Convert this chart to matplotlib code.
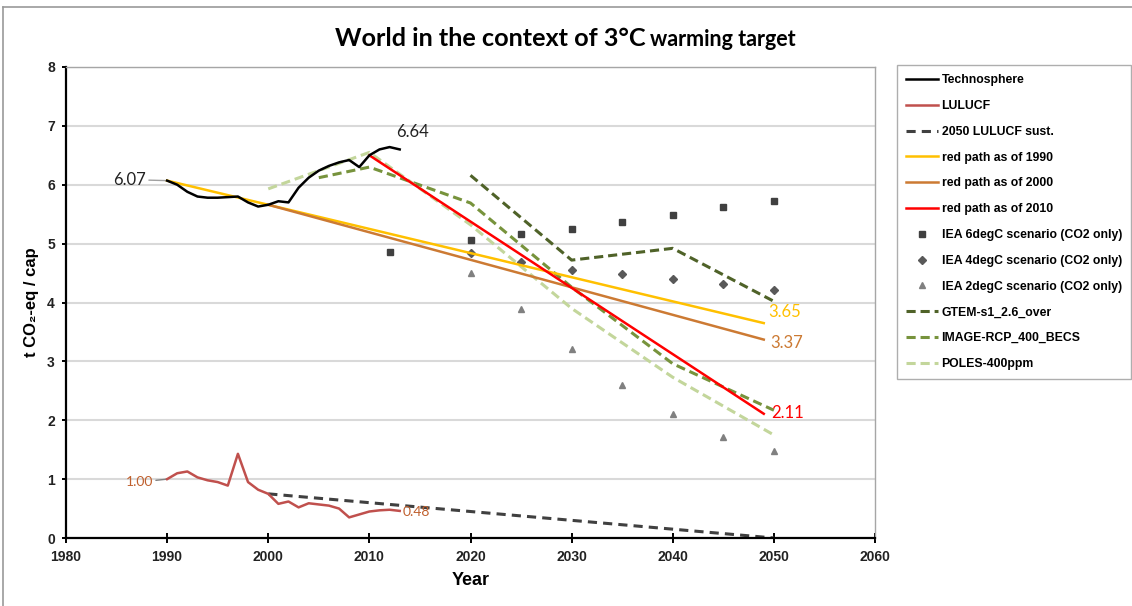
import numpy as np
import matplotlib.pyplot as plt
from matplotlib.lines import Line2D

# 历史排放（人均，t CO2-eq）
hist_years = [1990, 1991, 1992, 1993, 1994, 1995, 1996, 1997, 1998, 1999, 2000, 2001,
              2002, 2003, 2004, 2005, 2006, 2007, 2008, 2009, 2010, 2011, 2012, 2013]
techno = [6.07, 6.00, 5.88, 5.80, 5.78, 5.78, 5.79, 5.80, 5.70, 5.63, 5.66, 5.72,
          5.70, 5.95, 6.12, 6.24, 6.32, 6.38, 6.42, 6.30, 6.50, 6.60, 6.64, 6.60]
lulucf = [1.00, 1.10, 1.13, 1.03, 0.98, 0.95, 0.89, 1.43, 0.95, 0.82, 0.75, 0.58,
          0.62, 0.52, 0.59, 0.57, 0.55, 0.50, 0.35, 0.40, 0.45, 0.47, 0.48, 0.46]

# LULUCF 可持续路径
sust_years = [2000, 2050]
sust_vals = [0.75, 0.0]

# 减排路径
path1990_years = [1990, 2049]
path1990_vals = [6.07, 3.65]
path2000_years = [2000, 2049]
path2000_vals = [5.66, 3.37]
path2010_years = [2010, 2049]
path2010_vals = [6.50, 2.11]

# IEA 情景
iea_years = [2020, 2025, 2030, 2035, 2040, 2045, 2050]
iea6_years = [2012] + iea_years
iea6 = [4.85, 5.06, 5.16, 5.24, 5.37, 5.49, 5.63, 5.73]
iea4 = [4.84, 4.69, 4.55, 4.48, 4.40, 4.32, 4.21]
iea2 = [4.50, 3.89, 3.21, 2.60, 2.10, 1.71, 1.48]

# 模型情景
gtem_years = [2020, 2030, 2040, 2050]
gtem = [6.16, 4.72, 4.92, 4.02]
image_years = [2005, 2010, 2020, 2030, 2040, 2050]
image = [6.12, 6.30, 5.69, 4.26, 2.96, 2.17]
poles_years = [2000, 2010, 2020, 2030, 2040, 2050]
poles = [5.93, 6.55, 5.32, 3.90, 2.73, 1.75]

W, H = 1132, 606
fig = plt.figure(figsize=(W / 100, H / 100), dpi=100)
fig.patch.set_facecolor('white')
ax = fig.add_axes([66 / W, 1 - 538 / H, (875 - 66) / W, (538 - 67) / H])

# 图表外框
fig.add_artist(Line2D([3 / W, 3 / W], [0, 1 - 7 / H], color='#9a9a9a', lw=1.2))
fig.add_artist(Line2D([3 / W, 1], [1 - 7 / H, 1 - 7 / H], color='#9a9a9a', lw=1.2))

ax.set_xlim(1980, 2060)
ax.set_ylim(0, 8)
ax.set_yticks(range(0, 9))
ax.set_xticks(range(1980, 2061, 10))
ax.grid(axis='y', color='#d9d9d9', lw=1.5)
ax.set_axisbelow(True)

for s in ['left', 'bottom']:
    ax.spines[s].set_color('black')
    ax.spines[s].set_linewidth(1.6)
for s in ['top', 'right']:
    ax.spines[s].set_color('#a6a6a6')
    ax.spines[s].set_linewidth(1.0)

ax.tick_params(axis='x', direction='inout', length=7, width=1.4, pad=5)
ax.tick_params(axis='y', direction='out', length=3, width=1.4, pad=5)
for lab in ax.get_xticklabels() + ax.get_yticklabels():
    lab.set_fontfamily('Liberation Sans')
    lab.set_fontweight('bold')
    lab.set_fontsize(10)
    lab.set_color('#222222')

ax.set_xlabel('Year', fontfamily='Liberation Sans', fontweight='bold', fontsize=13, labelpad=6)
ax.set_ylabel('t CO₂-eq / cap', fontfamily=['Liberation Sans', 'DejaVu Sans'],
              fontweight='bold', fontsize=12, labelpad=6)

# 曲线
ax.plot(hist_years, techno, color='black', lw=1.8, label='Technosphere', zorder=5)
ax.plot(hist_years, lulucf, color='#c0504d', lw=1.8, label='LULUCF', zorder=5)
ax.plot(sust_years, sust_vals, color='#404040', lw=2.2, ls=(0, (3, 2)), label='2050 LULUCF sust.')
ax.plot(path1990_years, path1990_vals, color='#ffc000', lw=1.8, label='red path as of 1990', zorder=4)
ax.plot(path2000_years, path2000_vals, color='#cc7a33', lw=1.8, label='red path as of 2000', zorder=4)
ax.plot(path2010_years, path2010_vals, color='#ff0000', lw=1.8, label='red path as of 2010', zorder=4)
ax.plot(iea6_years, iea6, ls='none', marker='s', ms=5, color='#404040',
        label='IEA 6degC scenario (CO2 only)')
ax.plot(iea_years, iea4, ls='none', marker='D', ms=4, color='#595959',
        label='IEA 4degC scenario (CO2 only)')
ax.plot(iea_years, iea2, ls='none', marker='^', ms=5, color='#808080',
        label='IEA 2degC scenario (CO2 only)')
ax.plot(gtem_years, gtem, color='#4f6228', lw=2.2, ls=(0, (3, 1.6)), label='GTEM-s1_2.6_over', zorder=3)
ax.plot(image_years, image, color='#77933c', lw=2.2, ls=(0, (3, 1.6)), label='IMAGE-RCP_400_BECS', zorder=3)
ax.plot(poles_years, poles, color='#c3d69b', lw=2.2, ls=(0, (3, 1.6)), label='POLES-400ppm', zorder=3)

# 数据标签
lab_font = 'Lato'
ax.annotate(f'{techno[0]:.2f}', xy=(hist_years[0], techno[0]), xytext=(-21, 1),
            textcoords='offset pixels', ha='right', va='center', fontsize=12,
            family=lab_font, color='#222222',
            arrowprops=dict(arrowstyle='-', color='#a0a0a0', lw=1, shrinkA=0, shrinkB=0))
ax.annotate(f'{techno[22]:.2f}', xy=(hist_years[22], techno[22]), xytext=(23, 15),
            textcoords='offset pixels', ha='center', va='center', fontsize=12,
            family=lab_font, color='#222222')
ax.annotate(f'{lulucf[0]:.2f}', xy=(hist_years[0], lulucf[0]), xytext=(-14, -3),
            textcoords='offset pixels', ha='right', va='center', fontsize=10,
            family=lab_font, color='#c0602e',
            arrowprops=dict(arrowstyle='-', color='#808080', lw=1, shrinkA=0, shrinkB=0))
ax.annotate(f'{lulucf[22]:.2f}', xy=(hist_years[22], lulucf[22]), xytext=(13, -2),
            textcoords='offset pixels', ha='left', va='center', fontsize=10,
            family=lab_font, color='#c0602e')
ax.annotate(f'{path1990_vals[-1]:.2f}', xy=(path1990_years[-1], path1990_vals[-1]), xytext=(5, 11),
            textcoords='offset pixels', ha='left', va='center', fontsize=12,
            family=lab_font, color='#ffc000')
ax.annotate(f'{path2000_vals[-1]:.2f}', xy=(path2000_years[-1], path2000_vals[-1]), xytext=(7, -3),
            textcoords='offset pixels', ha='left', va='center', fontsize=12,
            family=lab_font, color='#cc7a33')
ax.annotate(f'{path2010_vals[-1]:.2f}', xy=(path2010_years[-1], path2010_vals[-1]), xytext=(7, 1),
            textcoords='offset pixels', ha='left', va='center', fontsize=12,
            family=lab_font, color='#ff0000')

# 图例
leg = fig.legend(loc='upper left', bbox_to_anchor=(897 / W, 1 - 65 / H),
                 bbox_transform=fig.transFigure, frameon=True, fancybox=False,
                 prop={'family': 'Liberation Sans', 'weight': 'bold', 'size': 8.8},
                 handlelength=2.6, handletextpad=0.3, labelspacing=1.13,
                 borderpad=0.75, borderaxespad=0, numpoints=1)
leg.get_frame().set_edgecolor('#9a9a9a')
leg.get_frame().set_linewidth(1.0)

# 标题（两种字号）
renderer = fig.canvas.get_renderer()
t1 = fig.text(335 / W, 1 - 46 / H, 'World in the context of 3°C', fontsize=18.2,
              family='Lato', weight='bold', ha='left', va='baseline')
bb = t1.get_window_extent(renderer)
fig.text(bb.x1 / W + 4 / W, 1 - 46 / H, 'warming target', fontsize=15.5,
         family='Lato', weight='bold', ha='left', va='baseline')

plt.savefig('out.png', dpi=100)
